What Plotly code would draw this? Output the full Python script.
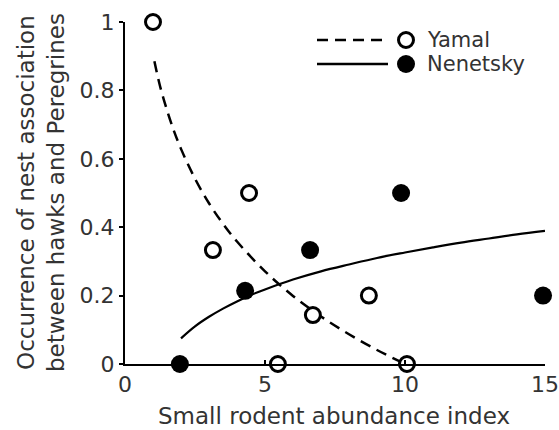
import plotly.graph_objects as go

# Data
yamal_x = [1.0, 3.14, 4.43, 5.46, 6.71, 8.71, 10.07]
yamal_y = [1.0, 0.333, 0.5, 0.0, 0.143, 0.2, 0.0]
nenetsky_x = [1.96, 4.29, 6.61, 9.86, 14.93]
nenetsky_y = [0.0, 0.214, 0.333, 0.5, 0.2]

# Fitted curves
yamal_fit_x = [1.05, 1.25, 1.5, 1.75, 2, 2.5, 3, 3.5, 4, 5, 6, 7, 8, 9, 10]
yamal_fit_y = [0.885, 0.813, 0.742, 0.681, 0.629, 0.542, 0.470, 0.410, 0.358, 0.271, 0.199,
               0.139, 0.087, 0.041, 0.0]
nen_fit_x = [2, 2.5, 3, 3.5, 4, 4.5, 5, 6, 7, 8, 9, 10, 11, 12, 13, 14, 15]
nen_fit_y = [0.075, 0.110, 0.138, 0.162, 0.183, 0.202, 0.218, 0.247, 0.271, 0.291, 0.310,
             0.326, 0.341, 0.355, 0.367, 0.379, 0.389]

x_ticks = [0, 5, 10, 15]
y_ticks = [0, 0.2, 0.4, 0.6, 0.8, 1]
y_tick_text = ["0", "0.2", "0.4", "0.6", "0.8", "1"]

FONT = "DejaVu Sans"
TXT = "#333333"

fig = go.Figure()
fig.add_trace(go.Scatter(x=yamal_fit_x, y=yamal_fit_y, mode="lines",
                         line=dict(color="black", width=2.5, dash="11px,7px", shape="spline"),
                         showlegend=False, hoverinfo="skip"))
fig.add_trace(go.Scatter(x=nen_fit_x, y=nen_fit_y, mode="lines",
                         line=dict(color="black", width=2.2, shape="spline"),
                         showlegend=False, hoverinfo="skip"))
fig.add_trace(go.Scatter(x=nenetsky_x, y=nenetsky_y, mode="markers",
                         marker=dict(size=18, color="black", line=dict(width=0)),
                         showlegend=False, cliponaxis=False))
fig.add_trace(go.Scatter(x=yamal_x, y=yamal_y, mode="markers",
                         marker=dict(size=15, color="white", line=dict(width=3, color="black")),
                         showlegend=False, cliponaxis=False))

# Manual legend (paper coordinates)
L = dict(l=125, r=14, t=22, b=66)
W = 559 - L["l"] - L["r"]
H = 430 - L["t"] - L["b"]
def px(x):
    return (x - L["l"]) / W
def py(y):
    return 1 - (y - L["t"]) / H

shapes = []
for yy, dash in [(40, "11px,7px"), (64, "solid")]:
    shapes.append(dict(type="line", xref="paper", yref="paper",
                       x0=px(317), x1=px(388), y0=py(yy), y1=py(yy),
                       line=dict(color="black", width=2.5, dash=dash)))
shapes.append(dict(type="circle", xref="paper", yref="paper", xsizemode="pixel", ysizemode="pixel",
                   xanchor=px(406), yanchor=py(40), x0=-7.5, x1=7.5, y0=-7.5, y1=7.5,
                   fillcolor="white", line=dict(color="black", width=3)))
shapes.append(dict(type="circle", xref="paper", yref="paper", xsizemode="pixel", ysizemode="pixel",
                   xanchor=px(406), yanchor=py(64), x0=-9, x1=9, y0=-9, y1=9,
                   fillcolor="black", line=dict(color="black", width=0)))

annotations = [
    dict(text="Yamal", xref="paper", yref="paper", x=px(425), y=py(40), xanchor="left",
         yanchor="middle", showarrow=False, font=dict(family=FONT, size=21, color=TXT)),
    dict(text="Nenetsky", xref="paper", yref="paper", x=px(425), y=py(64), xanchor="left",
         yanchor="middle", showarrow=False, font=dict(family=FONT, size=21, color=TXT)),
    dict(text="Small rodent abundance index", xref="paper", yref="paper",
         x=px(334), y=py(416), xanchor="center", yanchor="middle", showarrow=False,
         font=dict(family=FONT, size=23, color=TXT)),
    dict(text="Occurrence of nest association<br>between hawks and Peregrines",
         xref="paper", yref="paper", x=px(41), y=py(193), xanchor="center", yanchor="middle",
         textangle=-90, showarrow=False, font=dict(family=FONT, size=23, color=TXT)),
]

fig.update_layout(
    width=559, height=430,
    margin=L,
    paper_bgcolor="white", plot_bgcolor="white",
    shapes=shapes, annotations=annotations,
    font=dict(family=FONT, color=TXT, size=22),
    xaxis=dict(range=[0, 15], tickvals=x_ticks, showline=True, linecolor="black", linewidth=2,
               ticks="inside", ticklen=4, tickwidth=2, tickcolor="black", showgrid=False,
               zeroline=False, tickfont=dict(size=22), automargin=False),
    yaxis=dict(range=[0, 1], tickvals=y_ticks, ticktext=y_tick_text, showline=True,
               linecolor="black", linewidth=2, ticks="outside", ticklen=4, tickwidth=2,
               tickcolor="black", showgrid=False, zeroline=False, tickfont=dict(size=22),
               automargin=False),
)

fig.write_html("out.html")
